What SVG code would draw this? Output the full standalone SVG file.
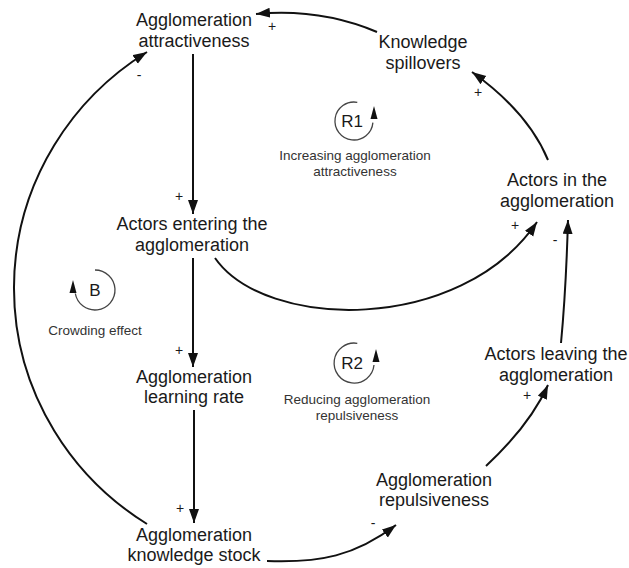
<svg xmlns="http://www.w3.org/2000/svg" width="629" height="568" viewBox="0 0 629 568">
<style>
.node{font-family:"Liberation Sans",Arial,sans-serif;font-size:18px;fill:#1a1a1a;text-anchor:middle}
.lbl{font-family:"Liberation Sans",Arial,sans-serif;font-size:13.5px;fill:#333;text-anchor:middle}
.sgn{font-family:"Liberation Sans",Arial,sans-serif;font-size:14px;fill:#1a1a1a;text-anchor:middle}
.loopname{font-family:"Liberation Sans",Arial,sans-serif;font-size:17px;fill:#1a1a1a;text-anchor:middle}
.c{fill:none;stroke:#111;stroke-width:2;marker-end:url(#ah)}
.loop{fill:none;stroke:#444;stroke-width:1.3}
.lah{fill:#111}
</style>
<defs>
<marker id="ah" markerUnits="userSpaceOnUse" markerWidth="16" markerHeight="12" refX="14" refY="5" orient="auto">
<path d="M0,0 L14,5 L0,10 z" fill="#111"/>
</marker>
</defs>
<rect width="629" height="568" fill="#fff"/>

<g id="connectors">
<path class="c" d="M377,32 Q320,8 256,14"/>
<path class="c" d="M193,54 L193,214"/>
<path class="c" d="M193,258 L193,367"/>
<path class="c" d="M194,410 L194,523"/>
<path class="c" d="M267,561 C320,563 355,556 396,525"/>
<path class="c" d="M486,466 Q530,425 548,385"/>
<path class="c" d="M561,343 Q566,290 568,220"/>
<path class="c" d="M548,160 Q528,112 472,72"/>
<path class="c" d="M215,258 C265,330 460,335 537,222"/>
<path class="c" d="M147,524 A288 280 0 0 1 147,52"/>
<text class="sgn" x="272" y="31">+</text>
<text class="sgn" x="139" y="80">-</text>
<text class="sgn" x="179" y="201">+</text>
<text class="sgn" x="179" y="355">+</text>
<text class="sgn" x="180" y="513">+</text>
<text class="sgn" x="373" y="528">-</text>
<text class="sgn" x="527" y="400">+</text>
<text class="sgn" x="555" y="245">-</text>
<text class="sgn" x="515" y="230">+</text>
<text class="sgn" x="478" y="97">+</text>
</g>

<g id="attractiveness">
<text class="node" x="194" y="26">Agglomeration</text>
<text class="node" x="194" y="47">attractiveness</text>
</g>
<g id="spillovers">
<text class="node" x="423" y="48">Knowledge</text>
<text class="node" x="423" y="69">spillovers</text>
</g>
<g id="entering">
<text class="node" x="192" y="230">Actors entering the</text>
<text class="node" x="192" y="251">agglomeration</text>
</g>
<g id="actors-in">
<text class="node" x="557" y="186">Actors in the</text>
<text class="node" x="557" y="207">agglomeration</text>
</g>
<g id="learning-rate">
<text class="node" x="194" y="383">Agglomeration</text>
<text class="node" x="194" y="403">learning rate</text>
</g>
<g id="leaving">
<text class="node" x="556" y="360">Actors leaving the</text>
<text class="node" x="556" y="381">agglomeration</text>
</g>
<g id="repulsiveness">
<text class="node" x="434" y="486">Agglomeration</text>
<text class="node" x="434" y="506">repulsiveness</text>
</g>
<g id="knowledge-stock">
<text class="node" x="194" y="541">Agglomeration</text>
<text class="node" x="194" y="561">knowledge stock</text>
</g>

<g id="loop-R1">
<path class="loop" d="M357.3,102.3 A19 19 0 1 0 372.9,122.6"/>
<path class="lah" d="M374,106 L377.5,119 L370.5,119 z"/>
<text class="loopname" x="352" y="127">R1</text>
<text class="lbl" x="355" y="160">Increasing agglomeration</text>
<text class="lbl" x="355" y="176">attractiveness</text>
</g>
<g id="loop-R2">
<path class="loop" d="M357.3,343.3 A20 20 0 1 0 374,365"/>
<path class="lah" d="M376,349 L379.5,362 L372.5,362 z"/>
<text class="loopname" x="352" y="369">R2</text>
<text class="lbl" x="357" y="404">Reducing agglomeration</text>
<text class="lbl" x="357" y="420">repulsiveness</text>
</g>
<g id="loop-B">
<path class="loop" d="M95,270 A20 20 0 1 1 75.3,293.5"/>
<path class="lah" d="M73,280 L76.5,293 L69.5,293 z"/>
<text class="loopname" x="95" y="296">B</text>
<text class="lbl" x="95" y="335">Crowding effect</text>
</g>
</svg>
